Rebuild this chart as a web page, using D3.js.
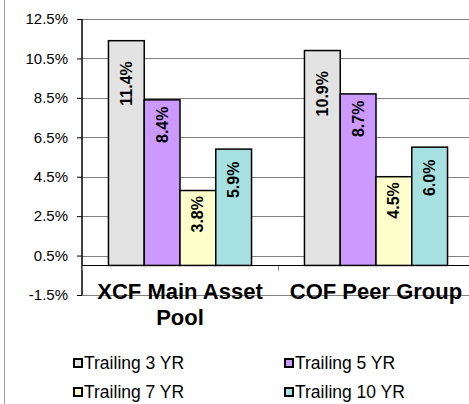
<!DOCTYPE html>
<html>
<head>
<meta charset="utf-8">
<script src="https://cdn.jsdelivr.net/npm/d3@7/dist/d3.min.js"></script>
<style>
  html, body { margin: 0; padding: 0; background: #fff; }
  svg { display: block; }
  svg text { font-family: "Liberation Sans", Arial, sans-serif; }
</style>
</head>
<body>
<svg id="chart" width="469" height="404"></svg>
<script>
// ---- data ----
const categories = ["XCF Main Asset Pool", "COF Peer Group"];
const seriesNames = ["Trailing 3 YR", "Trailing 5 YR", "Trailing 7 YR", "Trailing 10 YR"];
const trailing3 = [11.4, 10.9];
const trailing5 = [8.4, 8.7];
const trailing7 = [3.8, 4.5];
const trailing10 = [5.9, 6.0];
const tickValues = [-1.5, 0.5, 2.5, 4.5, 6.5, 8.5, 10.5, 12.5];

// ---- style ----
const FONT = "'Liberation Sans', Arial, sans-serif";
const colors = ["#E3E3E3", "#CC99FF", "#FFFFCC", "#A6E0E0"];
const labelOffsets = [20.5, 6.7, 5.5, 12.5];

const seriesValues = [trailing3, trailing5, trailing7, trailing10];
const svg = d3.select("#chart").attr("font-family", FONT);
const pct = v => (v < 0 ? "-" : "") + Math.abs(v).toFixed(1) + "%";

const plot = { left: 82, right: 474, top: 19, bottom: 295 };

const y = d3.scaleLinear().domain([-1.5, 12.5]).range([plot.bottom, plot.top]);
const x0 = d3.scaleBand().domain(categories).range([plot.left, plot.right])
  .paddingInner(0.27).paddingOuter(0.135);
const x1 = d3.scaleBand().domain(d3.range(seriesNames.length)).range([0, x0.bandwidth()]);

// left border of chart area
svg.append("line").attr("x1", 4.5).attr("x2", 4.5).attr("y1", 0).attr("y2", 404)
  .attr("stroke", "#a0a0a0").attr("stroke-width", 1);

// gridlines
svg.append("g").selectAll("line").data(tickValues).join("line")
  .attr("x1", plot.left).attr("x2", plot.right)
  .attr("y1", d => Math.round(y(d)) + 0.5).attr("y2", d => Math.round(y(d)) + 0.5)
  .attr("stroke", "#808080").attr("stroke-width", 1);

// y axis
const yAxis = d3.axisLeft(y).tickValues(tickValues).tickSize(5).tickPadding(9).tickFormat(pct);
const gy = svg.append("g").attr("transform", `translate(${plot.left},0)`).call(yAxis)
  .attr("font-family", FONT).attr("font-size", 15);
gy.select(".domain").remove();
gy.selectAll(".tick line").attr("stroke", "#000").attr("stroke-width", 1);
gy.selectAll(".tick text").attr("fill", "#000");
svg.append("line").attr("x1", plot.left).attr("x2", plot.left)
  .attr("y1", plot.top).attr("y2", plot.bottom)
  .attr("stroke", "#000").attr("stroke-width", 1.5);

// category ticks (band boundaries)
const zeroY = Math.round(y(0)) + 0.5;
const boundaries = [plot.left, ...categories.slice(1).map(c => x0(c) - x0.step() * 0.27 / 2), plot.right];
svg.append("g").selectAll("line").data(boundaries).join("line")
  .attr("x1", d => Math.round(d) + 0.5).attr("x2", d => Math.round(d) + 0.5)
  .attr("y1", zeroY).attr("y2", zeroY + 5)
  .attr("stroke", "#808080").attr("stroke-width", 1);

// bars
const groups = svg.append("g").selectAll("g").data(categories).join("g")
  .attr("transform", c => `translate(${x0(c)},0)`);
groups.selectAll("rect").data((c, ci) => seriesValues.map((s, si) => ({ si, v: s[ci] })))
  .join("rect")
  .attr("x", d => x1(d.si))
  .attr("width", x1.bandwidth())
  .attr("y", d => y(d.v))
  .attr("height", d => y(0) - y(d.v))
  .attr("fill", d => colors[d.si])
  .attr("stroke", "#000").attr("stroke-width", 1.5);

// bar labels
groups.selectAll("text").data((c, ci) => seriesValues.map((s, si) => ({ si, v: s[ci] })))
  .join("text")
  .attr("transform", d => `translate(${x1(d.si) + x1.bandwidth() / 2},${y(d.v) + labelOffsets[d.si]}) rotate(-90)`)
  .attr("text-anchor", "end")
  .attr("dominant-baseline", "central")
  .attr("font-size", 16).attr("font-weight", "bold").attr("fill", "#000")
  .text(d => pct(d.v));

// zero (category axis) line
svg.append("line").attr("x1", plot.left).attr("x2", plot.right)
  .attr("y1", zeroY).attr("y2", zeroY).attr("stroke", "#000").attr("stroke-width", 1.2);

// category labels with wrapping
function wrapLines(text, maxWidth, fontSize) {
  const tmp = svg.append("text").attr("font-size", fontSize).attr("font-weight", "bold");
  const words = text.split(" ");
  const lines = [];
  let cur = [];
  words.forEach(w => {
    const trial = cur.concat([w]).join(" ");
    tmp.text(trial);
    if (tmp.node().getComputedTextLength() > maxWidth && cur.length) {
      lines.push(cur.join(" "));
      cur = [w];
    } else cur.push(w);
  });
  lines.push(cur.join(" "));
  tmp.remove();
  return lines;
}
categories.forEach(c => {
  const lines = wrapLines(c, x0.step(), 22);
  const t = svg.append("text")
    .attr("x", x0(c) + x0.bandwidth() / 2).attr("y", 298.5)
    .attr("text-anchor", "middle").attr("font-size", 22).attr("font-weight", "bold").attr("fill", "#000");
  lines.forEach((l, i) => t.append("tspan").attr("x", x0(c) + x0.bandwidth() / 2)
    .attr("dy", i === 0 ? 0 : 26.5).text(l));
});

// legend
const legendCols = [73, 284];
const legendRows = [363, 392];
const legend = svg.append("g").selectAll("g").data(seriesNames).join("g")
  .attr("transform", (d, i) => `translate(${legendCols[i % 2]},${legendRows[Math.floor(i / 2)]})`);
legend.append("rect").attr("x", 1).attr("y", -4).attr("width", 8).attr("height", 8)
  .attr("fill", (d, i) => colors[i]).attr("stroke", "#000").attr("stroke-width", 2);
legend.append("text").attr("x", 11).attr("y", 0).attr("dominant-baseline", "central")
  .attr("font-size", 17.5).attr("fill", "#000").text(d => d);
</script>
</body>
</html>
